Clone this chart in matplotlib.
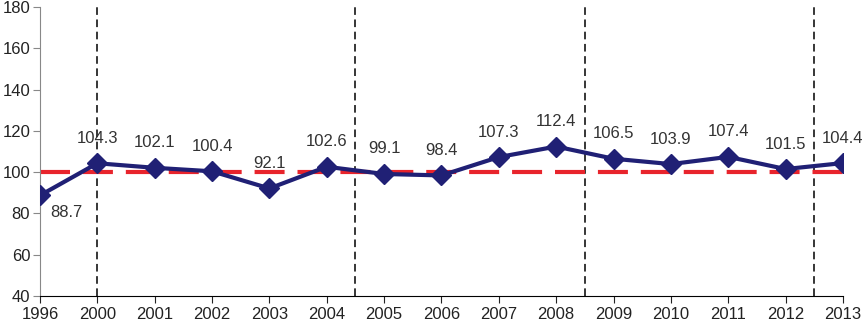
import matplotlib
matplotlib.use('Agg')
import matplotlib.pyplot as plt
import numpy as np

plt.rcParams['font.family'] = ['Liberation Sans', 'DejaVu Sans']

anios = ['1996', '2000', '2001', '2002', '2003', '2004', '2005', '2006',
         '2007', '2008', '2009', '2010', '2011', '2012', '2013']
valores = [88.7, 104.3, 102.1, 100.4, 92.1, 102.6, 99.1, 98.4,
           107.3, 112.4, 106.5, 103.9, 107.4, 101.5, 104.4]
referencia = 100
cortes = [1, 5.5, 9.5, 13.5]

x = np.arange(len(anios))

fig = plt.figure(figsize=(8.63, 3.22), dpi=100)
ax = fig.add_axes([0.0463, 0.081, 0.9305, 0.897])

ax.plot(x, [referencia] * len(x), color='#E8242C', lw=3, ls=(0, (7.2, 3.1)), zorder=2)
ax.plot(x, valores, color='#202075', lw=3, marker='D', ms=10, zorder=3)

for c in cortes:
    ax.axvline(c, color='black', lw=1.1, ls=(0, (5, 3)), zorder=1)

for i, v in enumerate(valores):
    dy = -12 if i == 0 else 18
    ax.annotate(f'{v:.1f}', (x[i], v), xytext=(0 if i else 19, dy), textcoords='offset points',
                ha='center', va='center', fontsize=12, color='#333333')

ax.set_xlim(0, len(anios) - 1)
ax.set_ylim(40, 180)
ax.set_yticks(range(40, 181, 20))
ax.set_xticks(x)
ax.set_xticklabels(anios)
ax.spines['top'].set_visible(False)
ax.spines['right'].set_visible(False)
ax.spines['left'].set_color('#888888')
ax.spines['bottom'].set_color('black')
ax.tick_params(axis='both', labelsize=12, colors='#222222', length=5, pad=2)
ax.tick_params(axis='y', color='#888888')
ax.tick_params(axis='x', pad=3)

fig.savefig('out.png', dpi=100)
